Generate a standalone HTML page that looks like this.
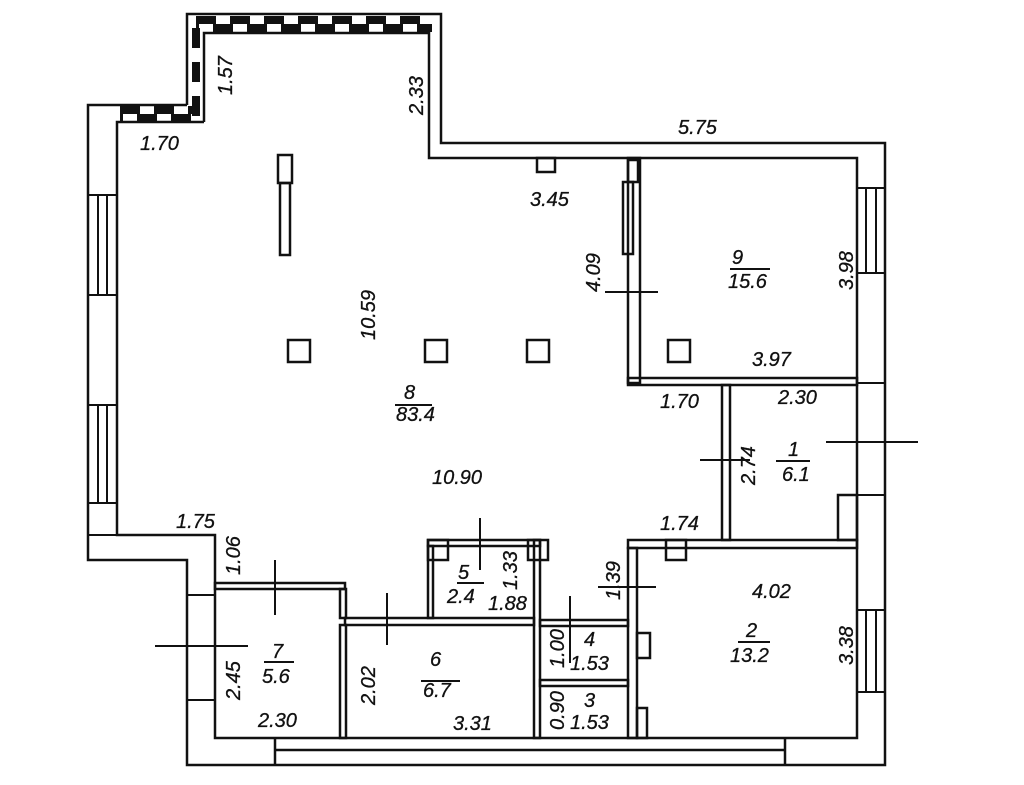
<!DOCTYPE html>
<html><head><meta charset="utf-8"><style>
html,body{margin:0;padding:0;background:#fff;}
svg text{font-family:"Liberation Sans",sans-serif;font-style:italic;font-size:20px;fill:#111;stroke:#111;stroke-width:0.3px;}
</style></head><body>
<svg width="1024" height="780" viewBox="0 0 1024 780" xmlns="http://www.w3.org/2000/svg">
<g fill="none" stroke="#111" stroke-width="2.5">
<polyline points="187,105 187,14 441,14 441,143 885,143 885,765 187,765 187,560 88,560 88,105 187,105"/>
<polyline points="204,122 204,33 429,33 429,158 857,158 857,738 215,738 215,535 117,535 117,122 204,122"/>
<line x1="275" y1="750" x2="785" y2="750"/>
<line x1="275" y1="738" x2="275" y2="765"/>
<line x1="785" y1="738" x2="785" y2="765"/>
</g>
<g stroke="#111" stroke-width="8" stroke-dasharray="20,14">
<line x1="196" y1="20" x2="432" y2="20" />
<line x1="196" y1="28" x2="432" y2="28" stroke-dashoffset="17"/>
<line x1="196" y1="28" x2="196" y2="118"/>
<line x1="120" y1="110" x2="200" y2="110"/>
<line x1="120" y1="118" x2="200" y2="118" stroke-dashoffset="17"/>
</g>
<g fill="none" stroke="#111" stroke-width="2">
<rect x="88" y="195" width="29" height="100"/><line x1="98" y1="195" x2="98" y2="295"/><line x1="107" y1="195" x2="107" y2="295"/>
<rect x="88" y="405" width="29" height="98"/><line x1="98" y1="405" x2="98" y2="503"/><line x1="107" y1="405" x2="107" y2="503"/>
<rect x="857" y="188" width="28" height="85"/><line x1="866" y1="188" x2="866" y2="273"/><line x1="876" y1="188" x2="876" y2="273"/>
<rect x="857" y="610" width="28" height="82"/><line x1="866" y1="610" x2="866" y2="692"/><line x1="876" y1="610" x2="876" y2="692"/>
<line x1="857" y1="383" x2="885" y2="383"/><line x1="857" y1="495" x2="885" y2="495"/>
<line x1="187" y1="595" x2="215" y2="595"/><line x1="187" y1="700" x2="215" y2="700"/>
<line x1="88" y1="535" x2="117" y2="535"/>
</g>
<g fill="none" stroke="#111" stroke-width="2.5">
<rect x="628" y="158" width="12" height="225"/>
<rect x="628" y="378" width="229" height="7"/>
<rect x="722" y="385" width="8" height="155"/>
<rect x="628" y="540" width="229" height="8"/>
<rect x="628" y="548" width="9" height="190"/>
<rect x="540" y="620" width="88" height="6"/>
<rect x="540" y="680" width="88" height="6"/>
<rect x="534" y="540" width="6" height="198"/>
<rect x="345" y="618" width="189" height="7"/>
<rect x="340" y="625" width="6" height="113"/>
<rect x="428" y="540" width="112" height="6"/>
<rect x="428" y="546" width="5" height="72"/>
<rect x="215" y="583" width="130" height="6"/>
<rect x="340" y="589" width="6" height="29"/>
<rect x="838" y="495" width="19" height="45"/>
<rect x="637" y="633" width="13" height="25"/>
<rect x="637" y="708" width="10" height="30"/>
<rect x="666" y="540" width="20" height="20"/>
<rect x="428" y="540" width="20" height="20"/>
<rect x="528" y="540" width="20" height="20"/>
<rect x="628" y="160" width="10" height="22"/>
<rect x="623" y="182" width="10" height="72"/>
<rect x="278" y="155" width="14" height="28"/>
<rect x="280" y="183" width="10" height="72"/>
<rect x="537" y="158" width="18" height="14"/>
<rect x="288" y="340" width="22" height="22"/>
<rect x="425" y="340" width="22" height="22"/>
<rect x="527" y="340" width="22" height="22"/>
<rect x="668" y="340" width="22" height="22"/>
</g>
<g stroke="#111" stroke-width="2">
<line x1="605" y1="292" x2="658" y2="292"/>
<line x1="700" y1="460" x2="750" y2="460"/>
<line x1="826" y1="442" x2="918" y2="442"/>
<line x1="598" y1="587" x2="656" y2="587"/>
<line x1="570" y1="596" x2="570" y2="663"/>
<line x1="480" y1="518" x2="480" y2="570"/>
<line x1="387" y1="593" x2="387" y2="645"/>
<line x1="275" y1="560" x2="275" y2="615"/>
<line x1="155" y1="646" x2="248" y2="646"/>
<line x1="776" y1="461" x2="810" y2="461"/>
<line x1="730" y1="269" x2="770" y2="269"/>
<line x1="395" y1="405" x2="432" y2="405"/>
<line x1="264" y1="662" x2="294" y2="662"/>
<line x1="421" y1="681" x2="460" y2="681"/>
<line x1="457" y1="583" x2="484" y2="583"/>
<line x1="738" y1="642" x2="770" y2="642"/>
</g>
<text x="140" y="150">1.70</text>
<text x="678" y="134">5.75</text>
<text x="530" y="206">3.45</text>
<text x="752" y="366">3.97</text>
<text x="660" y="408">1.70</text>
<text x="778" y="404">2.30</text>
<text x="432" y="484">10.90</text>
<text x="176" y="528">1.75</text>
<text x="660" y="530">1.74</text>
<text x="752" y="598">4.02</text>
<text x="488" y="610">1.88</text>
<text x="258" y="727">2.30</text>
<text x="453" y="730">3.31</text>
<text x="584" y="646">4</text><text x="570" y="670">1.53</text>
<text x="584" y="707">3</text><text x="570" y="729">1.53</text>
<text x="732" y="264">9</text><text x="728" y="288">15.6</text>
<text x="404" y="399">8</text><text x="396" y="421">83.4</text>
<text x="788" y="456">1</text><text x="782" y="481">6.1</text>
<text x="746" y="637">2</text><text x="730" y="662">13.2</text>
<text x="458" y="579">5</text><text x="447" y="603">2.4</text>
<text x="430" y="666">6</text><text x="423" y="697">6.7</text>
<text x="272" y="658">7</text><text x="262" y="683">5.6</text>
<g>
<text transform="translate(232,95) rotate(-90)">1.57</text>
<text transform="translate(423,115) rotate(-90)">2.33</text>
<text transform="translate(375,340) rotate(-90)">10.59</text>
<text transform="translate(600,292) rotate(-90)">4.09</text>
<text transform="translate(853,290) rotate(-90)">3.98</text>
<text transform="translate(755,485) rotate(-90)">2.74</text>
<text transform="translate(240,575) rotate(-90)">1.06</text>
<text transform="translate(517,590) rotate(-90)">1.33</text>
<text transform="translate(620,600) rotate(-90)">1.39</text>
<text transform="translate(240,700) rotate(-90)">2.45</text>
<text transform="translate(375,705) rotate(-90)">2.02</text>
<text transform="translate(564,668) rotate(-90)">1.00</text>
<text transform="translate(564,730) rotate(-90)">0.90</text>
<text transform="translate(853,665) rotate(-90)">3.38</text>
</g>
</svg>
</body></html>
